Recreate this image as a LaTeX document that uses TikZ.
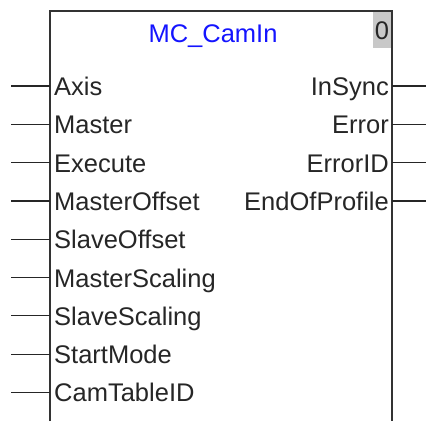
\documentclass[tikz,border=0pt]{standalone}
\usepackage{fontspec}
\setmainfont{Liberation Sans}
\begin{document}
\begin{tikzpicture}[x=1pt,y=-1pt,
  boxline/.style={line width=1.6pt,draw=black!80},
  stub/.style={line width=1.2pt,draw=black!85},
  lbl/.style={inner sep=0pt,font=\fontsize{25.5}{25.5}\selectfont,text=black!85},
  inlabel/.style={lbl,anchor=base west},
  outlabel/.style={lbl,anchor=base east},
  titlelabel/.style={lbl,anchor=base,text={rgb,255:red,20;green,20;blue,255}}]
\useasboundingbox (0,0) rectangle (426,421);
\fill[fill={rgb,255:red,200;green,200;blue,200}] (373,12) rectangle (391,48);
\node[lbl,anchor=base] (zero) at (382,39) {0};
\draw[boxline] (50,421) -- (50,11) -- (392,11) -- (392,421);
\node[titlelabel] (title) at (213,42.5) {MC\_CamIn};
\foreach \n/\t/\y in {a/Axis/86,b/Master/124.3,c/Execute/162.6,d/MasterOffset/200.9,e/SlaveOffset/239.2,f/MasterScaling/277.5,g/SlaveScaling/315.8,h/StartMode/354.1,i/CamTableID/392.4}{
  \coordinate (in\n) at (50,\y);
  \coordinate (src\n) at (11,\y);
  \draw[stub] (src\n) -- (in\n);
  \node[inlabel] (l\n) at (54,\y+9.5) {\t};
}
\foreach \n/\t/\y in {a/InSync/86,b/Error/124.3,c/ErrorID/162.6,d/EndOfProfile/200.9}{
  \coordinate (out\n) at (392,\y);
  \coordinate (dst\n) at (426,\y);
  \draw[stub] (out\n) -- (dst\n);
  \node[outlabel] (r\n) at (389,\y+9.5) {\t};
}
\end{tikzpicture}
\end{document}
